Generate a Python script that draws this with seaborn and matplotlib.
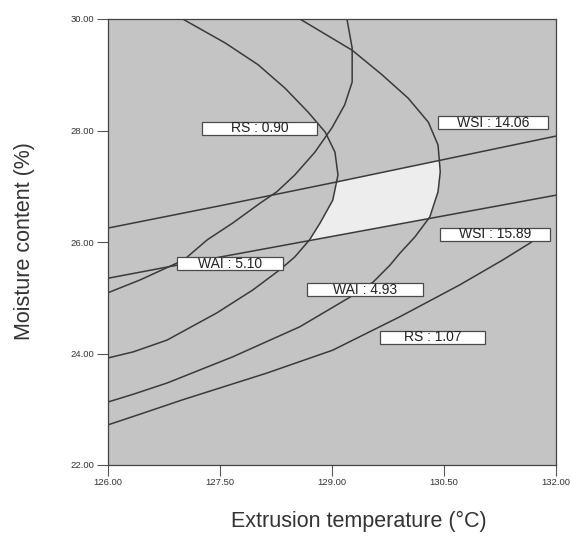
import numpy as np
import matplotlib
matplotlib.use('Agg')
import matplotlib.pyplot as plt
import seaborn as sns
from matplotlib.patches import Rectangle

# ---- readings from the overlay plot (temperature in °C, moisture in %) ----
# RS = 0.90 contour (sideways, opens to the left)
rs090_temp = [127.00, 127.57, 128.01, 128.37, 128.68, 128.91, 129.04, 129.08,
              129.01, 128.84, 128.70, 128.50, 128.30, 127.94, 127.46, 126.79,
              126.34, 126.00]
rs090_moist = [30.00, 29.57, 29.18, 28.76, 28.33, 27.97, 27.61, 27.20,
               26.75, 26.34, 26.04, 25.73, 25.50, 25.14, 24.73, 24.24,
               24.03, 23.92]

# WAI = 4.93 contour
wai493_temp = [128.57, 129.27, 129.67, 130.02, 130.29, 130.42, 130.45, 130.42,
               130.31, 130.11, 129.91, 129.78, 129.55, 129.24, 128.57, 127.67,
               126.79, 126.34, 126.00]
wai493_moist = [30.00, 29.44, 29.00, 28.58, 28.15, 27.74, 27.26, 26.90,
                26.45, 26.09, 25.80, 25.59, 25.28, 25.01, 24.48, 23.94,
                23.47, 23.27, 23.13]

# WAI = 5.10 contour
wai510_temp = [129.20, 129.27, 129.27, 129.17, 129.00, 128.77, 128.50, 128.26,
               128.04, 127.67, 127.33, 127.06, 126.92, 126.43, 126.00]
wai510_moist = [30.00, 29.48, 28.87, 28.46, 28.05, 27.61, 27.20, 26.90,
                26.70, 26.34, 26.04, 25.73, 25.62, 25.32, 25.09]

# WSI contours (almost straight)
wsi_temp = [126.0, 127.5, 129.0, 130.5, 132.0]
wsi1406_moist = [26.25, 26.65, 27.06, 27.48, 27.90]
wsi1589_moist = [25.35, 25.73, 26.10, 26.47, 26.84]

# RS = 1.07 contour
rs107_temp = [126.00, 126.47, 127.00, 128.13, 129.01, 129.91, 130.71, 131.29,
              131.65, 131.89]
rs107_moist = [22.72, 22.93, 23.17, 23.65, 24.06, 24.66, 25.23, 25.68,
               25.98, 26.20]

label_text = ['RS : 0.90', 'WSI : 14.06', 'WSI : 15.89',
              'WAI : 5.10', 'WAI : 4.93', 'RS : 1.07']

# label box centres / widths (layout only)
label_x = [128.03, 131.16, 131.18, 127.63, 129.44, 130.35]
label_y = [28.04, 28.14, 26.14, 25.61, 25.14, 24.29]
label_w = [1.54, 1.47, 1.47, 1.42, 1.55, 1.41]

sns.set_style('ticks')
plt.rcParams['font.family'] = ['Liberation Sans', 'DejaVu Sans']

fig = plt.figure(figsize=(5.71, 5.37), dpi=100)
ax = fig.add_axes([108 / 571, 72 / 537, 448 / 571, 446 / 537])
ax.set_facecolor('#c4c4c4')

# feasible (white) window: between the two WSI lines and the RS 0.90 / WAI 4.93 curves
gx = np.linspace(126, 132, 700)
gy = np.linspace(22, 30, 700)
GX, GY = np.meshgrid(gx, gy)
top = np.interp(GX, wsi_temp, wsi1406_moist)
bot = np.interp(GX, wsi_temp, wsi1589_moist)
left = np.interp(GY, rs090_moist[::-1], rs090_temp[::-1])
right = np.interp(GY, wai493_moist[::-1], wai493_temp[::-1])
score = np.minimum.reduce([top - GY, GY - bot, GX - left, right - GX])
ax.contourf(GX, GY, score, levels=[0, 100], colors=['#ededed'])

line_kw = dict(color='#3a3a3a', linewidth=1.1, sort=False, estimator=None, ax=ax)
sns.lineplot(x=rs090_temp, y=rs090_moist, **line_kw)
sns.lineplot(x=wai493_temp, y=wai493_moist, **line_kw)
sns.lineplot(x=wai510_temp, y=wai510_moist, **line_kw)
sns.lineplot(x=wsi_temp, y=wsi1406_moist, **line_kw)
sns.lineplot(x=wsi_temp, y=wsi1589_moist, **line_kw)
sns.lineplot(x=rs107_temp, y=rs107_moist, **line_kw)
for ln in ax.lines:
    ln.set_solid_joinstyle('round')

# contour labels in white boxes
box_h = 0.235
for txt, x, y, w in zip(label_text, label_x, label_y, label_w):
    ax.add_patch(Rectangle((x - w / 2, y - box_h / 2), w, box_h, facecolor='white',
                           edgecolor='#4a4a4a', linewidth=0.9, zorder=5))
    ax.text(x, y, txt, ha='center', va='center', fontsize=10, color='#222222', zorder=6)

ax.set_xlim(126, 132)
ax.set_ylim(22, 30)
xt = [126, 127.5, 129, 130.5, 132]
yt = [22, 24, 26, 28, 30]
ax.set_xticks(xt)
ax.set_xticklabels([f'{v:.2f}' for v in xt])
ax.set_yticks(yt)
ax.set_yticklabels([f'{v:.2f}' for v in yt])
ax.tick_params(axis='both', length=8, width=0.8, color='#555555',
               labelsize=6.8, labelcolor='#333333')
ax.tick_params(axis='x', pad=1.5)
ax.tick_params(axis='y', pad=2)
for sp in ax.spines.values():
    sp.set_color('#444444')
    sp.set_linewidth(0.9)
ax.set_xlabel('')
ax.set_ylabel('')

fig.text(25 / 571, 1 - 241 / 537, 'Moisture content (%)', rotation=90,
         ha='center', va='center', fontsize=15.5, color='#333333')
fig.text(359 / 571, 1 - 521 / 537, 'Extrusion temperature (°C)',
         ha='center', va='center', fontsize=15.5, color='#333333')

fig.savefig('out.png', dpi=100, facecolor='white')
